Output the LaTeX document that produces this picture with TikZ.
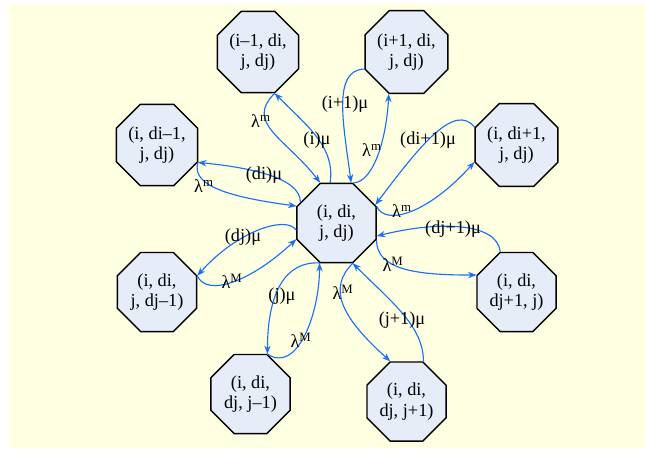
\documentclass[tikz,border=0pt]{standalone}
\usepackage{fontspec}
\setmainfont{Liberation Serif}
\usetikzlibrary{shapes.geometric,arrows.meta}
\definecolor{paper}{RGB}{255,255,225}
\definecolor{statefill}{RGB}{230,236,248}
\definecolor{flowblue}{RGB}{25,110,250}
\begin{document}
\begin{tikzpicture}[x=0.025cm,y=-0.025cm,
    state/.style={regular polygon,regular polygon sides=8,draw=black,line width=1pt,
      fill=statefill,minimum size=2.14cm,inner sep=0pt,align=center,
      font=\fontsize{13}{14.5}\selectfont},
    rate/.style={inner sep=0pt,font=\fontsize{13}{14.5}\selectfont},
    flow/.style={draw=flowblue,line width=0.8pt,-{Stealth[length=6pt,width=4.5pt]}}]
  \useasboundingbox (0,0) rectangle (645,448);
  \fill[paper] (9,4) rectangle (645,448);
  % states
  \node[state] (c)  at (336.5,223) {(i, di,\\ j, dj)};
  \node[state] (tl) at (258,52)    {(i–1, di,\\ j, dj)};
  \node[state] (tr) at (406.5,52)  {(i+1, di,\\ j, dj)};
  \node[state] (l1) at (157,145)   {(i, di–1,\\ j, dj)};
  \node[state] (r1) at (516.5,145) {(i, di+1,\\ j, dj)};
  \node[state] (l2) at (157,292)   {(i, di,\\ j, dj–1)};
  \node[state] (r2) at (516.5,292) {(i, di,\\ dj+1, j)};
  \node[state] (bl) at (250.5,394) {(i, di,\\ dj, j–1)};
  \node[state] (br) at (406.5,401.5) {(i, di,\\ dj, j+1)};
  % transitions
  \draw[flow] (tl.292.5) .. controls +(-30,30) and +(-35,-45) .. (c.112.5);
  \draw[flow] (c.99) .. controls +(5,-35) and +(35,35) .. (tl.292.5);
  \draw[flow] (tr.202.5) .. controls +(-32,1) and +(-8,-60) .. (c.70);
  \draw[flow] (c.67.5) .. controls +(22,-2) and +(-2,40) .. (tr.247.5);
  \draw[flow] (c.150) .. controls +(0,-25) and +(50,5) .. (l1.337.5);
  \draw[flow] (l1.337.5) .. controls +(-8,25) and +(-60,-8) .. (c.157.5);
  \draw[flow] (r1.157.5) .. controls +(-20,-25) and +(45,-60) .. (c.25);
  \draw[flow] (c.22.5) .. controls +(10,20) and +(-45,50) .. (r1.202.5);
  \draw[flow] (c.190) .. controls +(-10,-15) and +(40,-45) .. (l2.22.5);
  \draw[flow] (l2.22.5) .. controls +(10,22) and +(-45,42) .. (c.202.5);
  \draw[flow] (r2.112.5) .. controls +(-3,-30) and +(60,-15) .. (c.342);
  \draw[flow] (c.337.5) .. controls +(0,30) and +(-60,0) .. (r2.157.5);
  \draw[flow] (c.247.5) .. controls +(-35,-2) and +(0,-60) .. (bl.67.5);
  \draw[flow] (bl.67.5) .. controls +(30,20) and +(0,50) .. (c.247.5);
  \draw[flow] (c.292.5) .. controls +(-25,25) and +(-50,-45) .. (br.112.5);
  \draw[flow] (br.67.5) .. controls +(0,-35) and +(40,40) .. (c.292.5);
  % rates
  \node[rate] (tlin)  at (261,121) {λ\textsuperscript{m}};
  \node[rate] (tlout) at (317,140) {(i)μ};
  \node[rate] (trin)  at (345,104) {(i+1)μ};
  \node[rate] (trout) at (372,150) {λ\textsuperscript{m}};
  \node[rate] (l1out) at (264,175) {(di)μ};
  \node[rate] (l1in)  at (204,186) {λ\textsuperscript{m}};
  \node[rate] (r1in)  at (428,140) {(di+1)μ};
  \node[rate] (r1out) at (402,211) {λ\textsuperscript{m}};
  \node[rate] (l2out) at (243,237) {(dj)μ};
  \node[rate] (l2in)  at (232,281) {λ\textsuperscript{M}};
  \node[rate] (r2in)  at (453,229) {(dj+1)μ};
  \node[rate] (r2out) at (393,264) {λ\textsuperscript{M}};
  \node[rate] (blout) at (282,296) {(j)μ};
  \node[rate] (blin)  at (301,340) {λ\textsuperscript{M}};
  \node[rate] (brout) at (343,292) {λ\textsuperscript{M}};
  \node[rate] (brin)  at (402,320) {(j+1)μ};
\end{tikzpicture}
\end{document}
